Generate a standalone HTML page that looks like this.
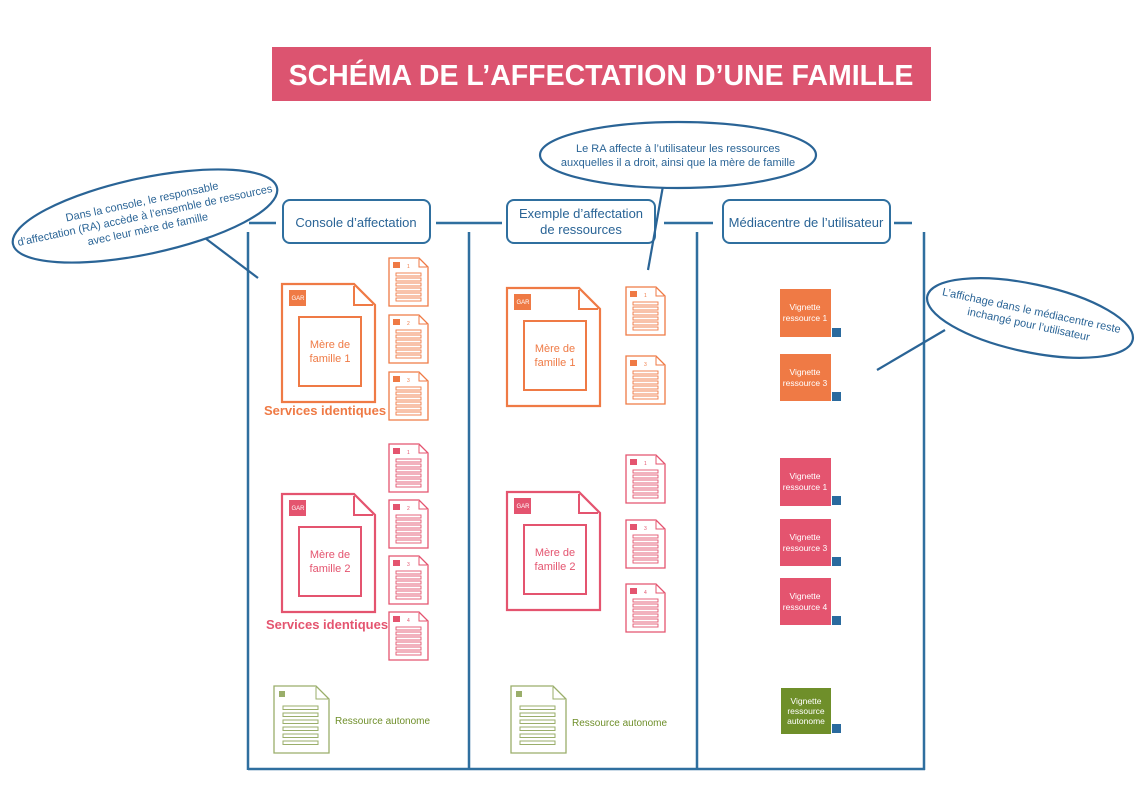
<!DOCTYPE html>
<html><head><meta charset="utf-8"><style>
html,body{margin:0;padding:0;background:#fff;}
svg{display:block;font-family:"Liberation Sans",sans-serif;}
</style></head><body>
<svg width="1145" height="810" viewBox="0 0 1145 810" xmlns="http://www.w3.org/2000/svg">
<defs>
<g id="big">
<path d="M0,0 H72 L93,21 V118 H0 Z" fill="#fff" stroke="currentColor" stroke-width="2.2"/>
<path d="M72,2 V21 H91" fill="none" stroke="currentColor" stroke-width="2"/>
<rect x="7" y="6" width="17" height="16" fill="currentColor"/>
<rect x="17" y="33" width="62" height="69" fill="none" stroke="currentColor" stroke-width="2"/>
</g>
<g id="small">
<path d="M0,0 H30 L39,9 V48 H0 Z" fill="#fff" stroke="currentColor" stroke-width="1.3"/>
<path d="M30,1 V9 H38" fill="none" stroke="currentColor" stroke-width="1"/>
<rect x="4" y="4" width="7" height="6" fill="currentColor"/>
<g fill="none" stroke="currentColor" stroke-width="0.9">
<rect x="7" y="15" width="25" height="3"/><rect x="7" y="20" width="25" height="3"/><rect x="7" y="25" width="25" height="3"/><rect x="7" y="30" width="25" height="3"/><rect x="7" y="35" width="25" height="3"/><rect x="7" y="40" width="25" height="3"/>
</g>
</g>
<g id="auto">
<path d="M0,0 H42 L55,13 V67 H0 Z" fill="#fff" stroke="currentColor" stroke-width="1.3"/>
<path d="M42,1 V13 H54" fill="none" stroke="currentColor" stroke-width="1"/>
<rect x="5" y="5" width="6" height="6" fill="currentColor"/>
<g fill="none" stroke="currentColor" stroke-width="1">
<rect x="9" y="20" width="35" height="3.5"/><rect x="9" y="27" width="35" height="3.5"/><rect x="9" y="34" width="35" height="3.5"/><rect x="9" y="41" width="35" height="3.5"/><rect x="9" y="48" width="35" height="3.5"/><rect x="9" y="55" width="35" height="3.5"/>
</g>
</g>
<g id="tag"><rect x="0" y="0" width="9" height="9" fill="#2a6a9e"/></g>
</defs>

<rect x="272" y="47" width="659" height="54" fill="#dc5470"/>
<text x="601" y="85" text-anchor="middle" font-size="28.5" font-weight="bold" fill="#fff">SCHÉMA DE L’AFFECTATION D’UNE FAMILLE</text>

<g stroke="#2f6f9f" stroke-width="2.5" fill="none">
<line x1="248" y1="232" x2="248" y2="770"/>
<line x1="469" y1="232" x2="469" y2="770"/>
<line x1="697" y1="232" x2="697" y2="770"/>
<line x1="924" y1="232" x2="924" y2="770"/>
<line x1="248" y1="769" x2="925" y2="769"/>
<line x1="249" y1="223" x2="276" y2="223"/>
<line x1="436" y1="223" x2="502" y2="223"/>
<line x1="664" y1="223" x2="713" y2="223"/>
<line x1="894" y1="223" x2="912" y2="223"/>
</g>

<g stroke="#2f6f9f" stroke-width="2" fill="#fff">
<rect x="283" y="200" width="147" height="43" rx="7"/>
<rect x="507" y="200" width="148" height="43" rx="7"/>
<rect x="723" y="200" width="167" height="43" rx="7"/>
</g>
<g fill="#2a6496" font-size="13" text-anchor="middle">
<text x="356" y="227">Console d’affectation</text>
<text x="581" y="218">Exemple d’affectation</text>
<text x="581" y="234">de ressources</text>
<text x="806" y="227">Médiacentre de l’utilisateur</text>
</g>

<g stroke="#2a6496" stroke-width="2.2" fill="#fff">
<line x1="205" y1="238" x2="258" y2="278"/>
<ellipse cx="145" cy="216" rx="135" ry="38" transform="rotate(-12 145 216)"/>
<line x1="663" y1="186" x2="648" y2="270"/>
<ellipse cx="678" cy="155" rx="138" ry="33"/>
<line x1="945" y1="330" x2="877" y2="370"/>
<ellipse cx="1030" cy="318" rx="105" ry="34" transform="rotate(12 1030 318)"/>
</g>
<g fill="#2a6496" font-size="11" text-anchor="middle">
<g transform="rotate(-12 145 216)">
<text x="145" y="205">Dans la console, le responsable</text>
<text x="145" y="219">d’affectation (RA) accède à l’ensemble de ressources</text>
<text x="145" y="233">avec leur mère de famille</text>
</g>
<text x="678" y="152">Le RA affecte à l’utilisateur les ressources</text>
<text x="678" y="166">auxquelles il a droit, ainsi que la mère de famille</text>
<g transform="rotate(12 1030 318)">
<text x="1030" y="314">L’affichage dans le médiacentre reste</text>
<text x="1030" y="328">inchangé pour l’utilisateur</text>
</g>
</g>

<g color="#ef7a45">
<use href="#big" x="282" y="284"/>
<use href="#small" x="389" y="258"/>
<use href="#small" x="389" y="315"/>
<use href="#small" x="389" y="372"/>
<use href="#big" x="507" y="288"/>
<use href="#small" x="626" y="287"/>
<use href="#small" x="626" y="356"/>
</g>
<g color="#e4546f">
<use href="#big" x="282" y="494"/>
<use href="#small" x="389" y="444"/>
<use href="#small" x="389" y="500"/>
<use href="#small" x="389" y="556"/>
<use href="#small" x="389" y="612"/>
<use href="#big" x="507" y="492"/>
<use href="#small" x="626" y="455"/>
<use href="#small" x="626" y="520"/>
<use href="#small" x="626" y="584"/>
</g>
<g font-size="5" fill="#ef7a45">
<text x="407" y="268">1</text><text x="407" y="325">2</text><text x="407" y="382">3</text>
<text x="644" y="297">1</text><text x="644" y="366">3</text>
</g>
<g font-size="5" fill="#e4546f">
<text x="407" y="454">1</text><text x="407" y="510">2</text><text x="407" y="566">3</text><text x="407" y="622">4</text>
<text x="644" y="465">1</text><text x="644" y="530">3</text><text x="644" y="594">4</text>
</g>
<g color="#9aae6a">
<use href="#auto" x="274" y="686"/>
<use href="#auto" x="511" y="686"/>
</g>
<g font-size="6" fill="#fff" text-anchor="middle">
<text x="298" y="300">GAR</text><text x="298" y="510">GAR</text>
<text x="523" y="304">GAR</text><text x="523" y="508">GAR</text>
</g>
<g font-size="11" text-anchor="middle" fill="#ef7a45">
<text x="330" y="348">Mère de</text><text x="330" y="362">famille 1</text>
<text x="555" y="352">Mère de</text><text x="555" y="366">famille 1</text>
</g>
<g font-size="11" text-anchor="middle" fill="#e4546f">
<text x="330" y="558">Mère de</text><text x="330" y="572">famille 2</text>
<text x="555" y="556">Mère de</text><text x="555" y="570">famille 2</text>
</g>
<text x="325" y="415" font-size="13" font-weight="bold" fill="#ef7a45" text-anchor="middle">Services identiques</text>
<text x="327" y="629" font-size="13" font-weight="bold" fill="#e4546f" text-anchor="middle">Services identiques</text>
<text x="335" y="724" font-size="10" fill="#6f8f2a">Ressource autonome</text>
<text x="572" y="726" font-size="10" fill="#6f8f2a">Ressource autonome</text>

<g>
<rect x="780" y="289" width="51" height="48" fill="#ef7a45"/><use href="#tag" x="832" y="328"/>
<rect x="780" y="354" width="51" height="47" fill="#ef7a45"/><use href="#tag" x="832" y="392"/>
<rect x="780" y="458" width="51" height="48" fill="#e4546f"/><use href="#tag" x="832" y="496"/>
<rect x="780" y="519" width="51" height="47" fill="#e4546f"/><use href="#tag" x="832" y="557"/>
<rect x="780" y="578" width="51" height="47" fill="#e4546f"/><use href="#tag" x="832" y="616"/>
<rect x="781" y="688" width="50" height="46" fill="#6f8f2a"/><use href="#tag" x="832" y="724"/>
</g>
<g font-size="8.5" fill="#fff" text-anchor="middle">
<text x="805" y="310">Vignette</text><text x="805" y="321">ressource 1</text>
<text x="805" y="375">Vignette</text><text x="805" y="386">ressource 3</text>
<text x="805" y="479">Vignette</text><text x="805" y="490">ressource 1</text>
<text x="805" y="540">Vignette</text><text x="805" y="551">ressource 3</text>
<text x="805" y="599">Vignette</text><text x="805" y="610">ressource 4</text>
<text x="806" y="704">Vignette</text><text x="806" y="714">ressource</text><text x="806" y="724">autonome</text>
</g>
</svg>
</body></html>
